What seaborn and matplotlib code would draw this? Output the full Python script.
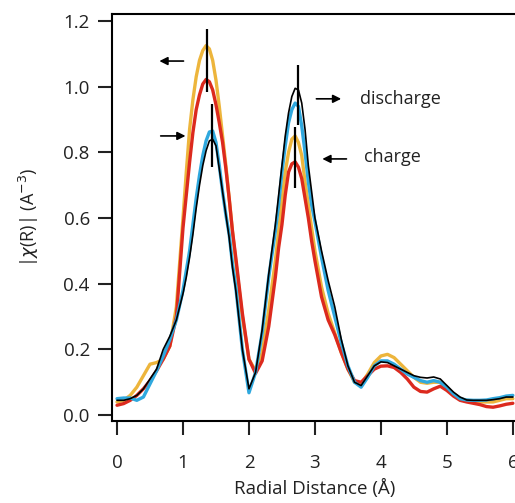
import numpy as np
import pandas as pd
import matplotlib
matplotlib.use('Agg')
import matplotlib.pyplot as plt
import seaborn as sns

# radial distance grid (finer around the two peaks)
r = [0.0, 0.1, 0.2, 0.3, 0.4, 0.5, 0.6, 0.7, 0.8, 0.9, 1.0,
     1.05, 1.1, 1.15, 1.2, 1.25, 1.3, 1.35, 1.4, 1.45, 1.5, 1.55, 1.6, 1.65, 1.7, 1.75, 1.8,
     1.9, 2.0, 2.1, 2.2, 2.3, 2.4,
     2.45, 2.5, 2.55, 2.6, 2.65, 2.7, 2.75, 2.8, 2.85, 2.9, 2.95, 3.0,
     3.1, 3.2, 3.3, 3.4, 3.5, 3.6, 3.7, 3.8, 3.9, 4.0, 4.1, 4.2, 4.3, 4.4, 4.5,
     4.6, 4.7, 4.8, 4.9, 5.0, 5.1, 5.2, 5.3, 5.4, 5.5, 5.6, 5.7, 5.8, 5.9, 6.0]

chi_yellow = [0.04, 0.045, 0.06, 0.085, 0.12, 0.155, 0.16, 0.17, 0.21, 0.33, 0.6,
              0.74, 0.87, 0.96, 1.03, 1.08, 1.11, 1.125, 1.115, 1.08, 1.02, 0.94, 0.85, 0.76, 0.66, 0.56, 0.47,
              0.3, 0.17, 0.135, 0.19, 0.32, 0.47,
              0.56, 0.65, 0.74, 0.8, 0.84, 0.85, 0.83, 0.79, 0.71, 0.64, 0.57, 0.5,
              0.39, 0.31, 0.25, 0.19, 0.14, 0.1, 0.095, 0.125, 0.16, 0.18, 0.185, 0.175, 0.155, 0.135, 0.115,
              0.1, 0.097, 0.1, 0.1, 0.085, 0.065, 0.05, 0.045, 0.042, 0.04, 0.04, 0.04, 0.045, 0.05, 0.05]

chi_red = [0.03, 0.035, 0.045, 0.06, 0.08, 0.105, 0.135, 0.17, 0.21, 0.3, 0.57,
           0.67, 0.77, 0.86, 0.93, 0.975, 1.008, 1.022, 1.015, 0.99, 0.945, 0.89, 0.83, 0.75, 0.66, 0.56, 0.48,
           0.31, 0.17, 0.127, 0.165, 0.27, 0.42,
           0.51, 0.58, 0.67, 0.74, 0.765, 0.771, 0.755, 0.72, 0.66, 0.6, 0.53, 0.47,
           0.36, 0.29, 0.245, 0.19, 0.14, 0.105, 0.1, 0.12, 0.14, 0.149, 0.15, 0.145, 0.13, 0.11, 0.085,
           0.072, 0.07, 0.08, 0.088, 0.075, 0.058, 0.045, 0.04, 0.036, 0.032, 0.026, 0.024, 0.028, 0.033, 0.036]

chi_blue = [0.05, 0.052, 0.052, 0.045, 0.055, 0.095, 0.135, 0.18, 0.23, 0.29, 0.38,
            0.44, 0.5, 0.58, 0.66, 0.73, 0.79, 0.835, 0.862, 0.865, 0.83, 0.76, 0.68, 0.61, 0.55, 0.46, 0.39,
            0.2, 0.068, 0.13, 0.25, 0.42, 0.56,
            0.64, 0.74, 0.82, 0.89, 0.93, 0.95, 0.94, 0.88, 0.8, 0.71, 0.64, 0.59,
            0.48, 0.38, 0.3, 0.22, 0.15, 0.1, 0.085, 0.115, 0.15, 0.165, 0.165, 0.155, 0.14, 0.125, 0.115,
            0.105, 0.1, 0.105, 0.1, 0.085, 0.065, 0.05, 0.046, 0.045, 0.045, 0.046, 0.05, 0.053, 0.058, 0.06]

chi_black = [0.045, 0.045, 0.05, 0.06, 0.08, 0.11, 0.14, 0.2, 0.24, 0.29, 0.37,
             0.42, 0.48, 0.55, 0.63, 0.7, 0.76, 0.805, 0.835, 0.84, 0.82, 0.75, 0.68, 0.61, 0.54, 0.45, 0.38,
             0.2, 0.08, 0.13, 0.26, 0.43, 0.58,
             0.67, 0.76, 0.85, 0.92, 0.97, 0.995, 0.99, 0.95, 0.87, 0.76, 0.68, 0.6,
             0.5, 0.41, 0.33, 0.23, 0.15, 0.1, 0.09, 0.12, 0.15, 0.162, 0.16, 0.15, 0.14, 0.13, 0.12,
             0.115, 0.113, 0.116, 0.11, 0.09, 0.07, 0.055, 0.046, 0.045, 0.045, 0.045, 0.047, 0.05, 0.055, 0.055]

series_names = ['yellow', 'red', 'blue', 'black']
series_colors = ['#EDB53C', '#DC2A1E', '#2FA8DE', '#000000']
series_widths = [2.4, 2.4, 2.4, 1.2]

# vertical markers on the peaks
marker_x = [1.36, 1.445, 2.748, 2.697]
marker_lo = [0.984, 0.755, 0.883, 0.691]
marker_hi = [1.176, 0.947, 1.066, 0.877]

sns.set_style('ticks')
plt.rcParams['font.family'] = ['Open Sans', 'DejaVu Sans']
plt.rcParams['mathtext.fontset'] = 'dejavusans'

df = pd.DataFrame({
    'r': r * 4,
    'chi': chi_yellow + chi_red + chi_blue + chi_black,
    'sample': sum([[n] * len(r) for n in series_names], []),
})

fig = plt.figure(figsize=(5.15, 5.03), dpi=100)
ax = fig.add_axes([0.2175, 0.163, 0.786, 0.809])

for name, col, lw in zip(series_names, series_colors, series_widths):
    sns.lineplot(data=df[df['sample'] == name], x='r', y='chi', color=col,
                 linewidth=lw, ax=ax, sort=False, legend=False)

ax.vlines(marker_x, marker_lo, marker_hi, color='black', linewidth=1.6, zorder=5)

# arrows and labels
arr = dict(arrowstyle='-|>', color='black', lw=1.2, mutation_scale=12)
ax.annotate('', xy=(0.6, 1.078), xytext=(1.05, 1.078), arrowprops=arr)
ax.annotate('', xy=(1.08, 0.85), xytext=(0.62, 0.85), arrowprops=arr)
ax.annotate('', xy=(3.44, 0.963), xytext=(2.98, 0.963), arrowprops=arr)
ax.annotate('', xy=(3.07, 0.78), xytext=(3.52, 0.78), arrowprops=arr)
ax.text(3.68, 0.963, 'discharge', fontsize=13, va='center', ha='left', color='#222222')
ax.text(3.74, 0.786, 'charge', fontsize=13, va='center', ha='left', color='#222222')

ax.set_xlim(-0.076, 6.06)
ax.set_ylim(-0.018, 1.221)
ax.set_xticks([0, 1, 2, 3, 4, 5, 6])
ax.set_yticks([0.0, 0.2, 0.4, 0.6, 0.8, 1.0, 1.2])
ax.set_yticklabels(['0.0', '0.2', '0.4', '0.6', '0.8', '1.0', '1.2'])
ax.tick_params(axis='both', direction='out', length=10, width=1.5, labelsize=13.5, colors='#222222')
ax.tick_params(axis='x', pad=14)
ax.tick_params(axis='y', pad=6)
for s in ax.spines.values():
    s.set_linewidth(1.5)
    s.set_color('black')

ax.set_xlabel('Radial Distance (Å)', fontsize=13.5, labelpad=5, color='#222222')
ax.set_ylabel(r'|$\chi$(R)| (A$^{-3}$)', fontsize=13, labelpad=16, color='#222222')

fig.savefig('out.png', dpi=100)
